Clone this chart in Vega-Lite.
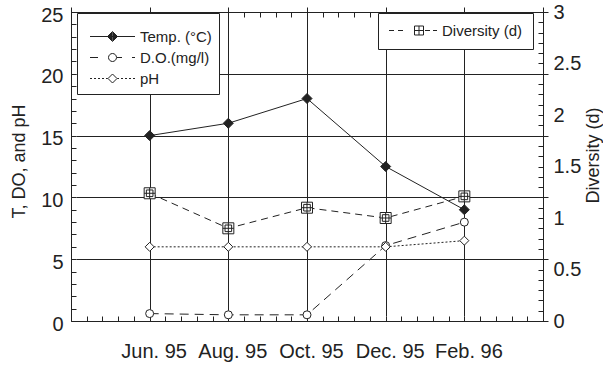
{
  "$schema": "https://vega.github.io/schema/vega-lite/v6.json",
  "width": 472,
  "height": 309,
  "autosize": {"type": "none"},
  "padding": {"left": 71, "top": 12, "right": 60, "bottom": 47},
  "config": {
    "view": {"stroke": "#222", "strokeWidth": 1},
    "font": "Liberation Sans",
    "axis": {
      "labelFont": "Liberation Sans",
      "titleFont": "Liberation Sans",
      "domain": false,
      "tickColor": "#222",
      "tickWidth": 1,
      "tickSize": 5,
      "offset": -5,
      "labelColor": "#222",
      "titleColor": "#222",
      "gridColor": "#222",
      "gridWidth": 1,
      "titleFontWeight": "normal",
      "labelOverlap": false,
      "labelFlush": false
    },
    "legend": {
      "labelFont": "Liberation Sans",
      "labelFontSize": 15,
      "labelColor": "#222",
      "titleFont": "Liberation Sans",
      "symbolOpacity": 1
    }
  },
  "data": {
    "values": [
      {"month": "Jun. 95", "idx": 1, "series": "Temp. (°C)", "value": 15},
      {"month": "Aug. 95", "idx": 2, "series": "Temp. (°C)", "value": 16},
      {"month": "Oct. 95", "idx": 3, "series": "Temp. (°C)", "value": 18},
      {"month": "Dec. 95", "idx": 4, "series": "Temp. (°C)", "value": 12.5},
      {"month": "Feb. 96", "idx": 5, "series": "Temp. (°C)", "value": 9},
      {"month": "Jun. 95", "idx": 1, "series": "D.O.(mg/l)", "value": 0.6},
      {"month": "Aug. 95", "idx": 2, "series": "D.O.(mg/l)", "value": 0.5},
      {"month": "Oct. 95", "idx": 3, "series": "D.O.(mg/l)", "value": 0.5},
      {"month": "Dec. 95", "idx": 4, "series": "D.O.(mg/l)", "value": 6.1},
      {"month": "Feb. 96", "idx": 5, "series": "D.O.(mg/l)", "value": 8},
      {"month": "Jun. 95", "idx": 1, "series": "pH", "value": 6},
      {"month": "Aug. 95", "idx": 2, "series": "pH", "value": 6},
      {"month": "Oct. 95", "idx": 3, "series": "pH", "value": 6},
      {"month": "Dec. 95", "idx": 4, "series": "pH", "value": 6},
      {"month": "Feb. 96", "idx": 5, "series": "pH", "value": 6.5},
      {"month": "Jun. 95", "idx": 1, "series": "Diversity (d)", "value": 1.24},
      {"month": "Aug. 95", "idx": 2, "series": "Diversity (d)", "value": 0.9},
      {"month": "Oct. 95", "idx": 3, "series": "Diversity (d)", "value": 1.1},
      {"month": "Dec. 95", "idx": 4, "series": "Diversity (d)", "value": 1.0},
      {"month": "Feb. 96", "idx": 5, "series": "Diversity (d)", "value": 1.21}
    ]
  },
  "layer": [
    {
      "transform": [{"filter": {"field": "series", "oneOf": ["Temp. (°C)", "D.O.(mg/l)", "pH"]}}],
      "encoding": {
        "x": {
          "field": "idx", "type": "quantitative",
          "scale": {"domain": [0, 6], "nice": false, "zero": false},
          "axis": {
            "orient": "bottom",
            "title": null,
            "values": [0, 0.2, 0.4, 0.6, 0.8, 1, 1.2, 1.4, 1.6, 1.8, 2, 2.2, 2.4, 2.6, 2.8, 3, 3.2, 3.4, 3.6, 3.8, 4, 4.2, 4.4, 4.6, 4.8, 5, 5.2, 5.4, 5.6, 5.8, 6],
            "labelExpr": "datum.value == 1 ? 'Jun. 95' : datum.value == 2 ? 'Aug. 95' : datum.value == 3 ? 'Oct. 95' : datum.value == 4 ? 'Dec. 95' : datum.value == 5 ? 'Feb. 96' : ''",
            "labelPadding": 20,
            "labelFontSize": 20,
            "labelOffset": 4,
            "grid": true,
            "gridOpacity": {"condition": {"test": "datum.value % 1 === 0", "value": 1}, "value": 0}
          }
        },
        "y": {
          "field": "value", "type": "quantitative",
          "scale": {"domain": [0, 25], "nice": false},
          "axis": {
            "orient": "left",
            "title": "T, DO, and pH",
            "titleFontSize": 18,
            "titleAngle": 270,
            "titleX": -57,
            "titleY": 149,
            "titleAlign": "center",
            "titleBaseline": "middle",
            "values": [0, 1, 2, 3, 4, 5, 6, 7, 8, 9, 10, 11, 12, 13, 14, 15, 16, 17, 18, 19, 20, 21, 22, 23, 24, 25],
            "labelExpr": "datum.value % 5 === 0 ? datum.label : ''",
            "labelPadding": 8,
            "labelFontSize": 20,
            "labelOffset": 3,
            "grid": true,
            "gridOpacity": {"condition": {"test": "datum.value % 5 === 0", "value": 1}, "value": 0}
          }
        }
      },
      "layer": [
        {
          "transform": [{"filter": {"field": "series", "equal": "Temp. (°C)"}}],
          "mark": {"type": "line", "stroke": "#222", "strokeWidth": 1}
        },
        {
          "transform": [{"filter": {"field": "series", "equal": "D.O.(mg/l)"}}],
          "mark": {"type": "line", "stroke": "#222", "strokeWidth": 1, "strokeDash": [9, 6]}
        },
        {
          "transform": [{"filter": {"field": "series", "equal": "pH"}}],
          "mark": {"type": "line", "stroke": "#222", "strokeWidth": 1, "strokeDash": [2, 2]}
        },
        {
          "transform": [{"filter": {"field": "series", "equal": "Temp. (°C)"}}],
          "mark": {"type": "point", "shape": "diamond", "size": 100, "filled": true, "fill": "#222", "stroke": "#222", "strokeWidth": 1, "opacity": 1}
        },
        {
          "transform": [{"filter": {"field": "series", "equal": "D.O.(mg/l)"}}],
          "mark": {"type": "point", "shape": "circle", "size": 64, "filled": true, "fill": "white", "stroke": "#222", "strokeWidth": 1, "opacity": 1}
        },
        {
          "transform": [{"filter": {"field": "series", "equal": "pH"}}],
          "mark": {"type": "point", "shape": "diamond", "size": 81, "filled": true, "fill": "white", "stroke": "#222", "strokeWidth": 1, "opacity": 1}
        },
        {
          "mark": {"type": "point", "size": 0, "filled": true, "fill": "white", "stroke": "#222", "strokeWidth": 1, "opacity": 1},
          "encoding": {
            "shape": {
              "field": "series", "type": "nominal",
              "scale": {
                "domain": ["Temp. (°C)", "D.O.(mg/l)", "pH"],
                "range": [
                  "M-0.3,0H8.7M3.2,0L4.2,-1L5.2,0L4.2,1ZM3.4,0L4.2,-0.8L5,0L4.2,0.8ZM3.6,0L4.2,-0.6L4.8,0L4.2,0.6ZM3.8,0L4.2,-0.4L4.6,0L4.2,0.4ZM4,0L4.2,-0.2L4.4,0L4.2,0.2Z",
                  "M-0.3,0H1.3M5,0A0.8,0.8 0 1,1 3.4,0A0.8,0.8 0 1,1 5,0ZM5.1,0H6.1M8.1,0H8.7",
                  "M-0.3,0H0.1M0.5,0H0.9M1.3,0H1.7M2.1,0H2.5M2.9,0H3.25M3.3,0L4.2,-0.9L5.1,0L4.2,0.9ZM5.15,0H5.5M5.9,0H6.3M6.7,0H7.1M7.5,0H7.9M8.3,0H8.7"
                ]
              },
              "legend": {
                "title": " ", "titleFontSize": 1, "titlePadding": 8,
                "orient": "none", "legendX": 6, "legendY": 1,
                "padding": 7, "symbolSize": 100, "symbolStrokeWidth": 1,
                "symbolOffset": 0,
                "labelFontSize": 15, "labelOffset": 41, "rowPadding": 5,
                "strokeColor": "#222", "fillColor": "white"
              }
            }
          }
        }
      ]
    },
    {
      "transform": [{"filter": {"field": "series", "equal": "Diversity (d)"}}],
      "encoding": {
        "x": {
          "field": "idx", "type": "quantitative",
          "scale": {"domain": [0, 6], "nice": false, "zero": false},
          "axis": {
            "orient": "top",
            "title": null,
            "values": [0, 0.2, 0.4, 0.6, 0.8, 1, 1.2, 1.4, 1.6, 1.8, 2, 2.2, 2.4, 2.6, 2.8, 3, 3.2, 3.4, 3.6, 3.8, 4, 4.2, 4.4, 4.6, 4.8, 5, 5.2, 5.4, 5.6, 5.8, 6],
            "labels": false,
            "grid": false
          }
        },
        "y": {
          "field": "value", "type": "quantitative",
          "scale": {"domain": [0, 3], "nice": false},
          "axis": {
            "orient": "right",
            "title": "Diversity (d)",
            "titleFontSize": 18,
            "titleAngle": 270,
            "titleX": 55,
            "titleY": 143,
            "titleAlign": "center",
            "titleBaseline": "middle",
            "values": [0, 0.1, 0.2, 0.3, 0.4, 0.5, 0.6, 0.7, 0.8, 0.9, 1, 1.1, 1.2, 1.3, 1.4, 1.5, 1.6, 1.7, 1.8, 1.9, 2, 2.1, 2.2, 2.3, 2.4, 2.5, 2.6, 2.7, 2.8, 2.9, 3],
            "labelExpr": "abs(datum.value * 2 - round(datum.value * 2)) < 0.000001 ? format(datum.value, '~g') : ''",
            "labelPadding": 10,
            "labelFontSize": 20,
            "grid": false
          }
        }
      },
      "layer": [
        {
          "mark": {"type": "line", "stroke": "#222", "strokeWidth": 1, "strokeDash": [7, 5]}
        },
        {
          "mark": {"type": "point", "shape": "M-1,-1H1V1H-1ZM-0.6,-0.6H0.6V0.6H-0.6ZM0,-1V1M-1,0H1", "size": 121, "filled": true, "fill": "white", "stroke": "#222", "strokeWidth": 1, "opacity": 1}
        },
        {
          "mark": {"type": "point", "size": 0, "filled": true, "fill": "white", "stroke": "#222", "strokeWidth": 1, "opacity": 1},
          "encoding": {
            "shape": {
              "field": "series", "type": "nominal",
              "scale": {
                "domain": ["Diversity (d)"],
                "range": ["M-1.3,0H-0.3M0.5,0H1.5M3.8,-0.9H5.6V0.9H3.8ZM4.7,-0.9V0.9M3.8,0H5.6M5.9,0H6.9M7.5,0H8.3"]
              },
              "legend": {
                "title": null,
                "orient": "none", "legendX": 307, "legendY": 1,
                "padding": 10, "symbolSize": 100, "symbolStrokeWidth": 1,
                "symbolOffset": 0,
                "labelFontSize": 15, "labelOffset": 39,
                "strokeColor": "#222", "fillColor": "white"
              }
            }
          }
        }
      ]
    }
  ],
  "resolve": {"scale": {"x": "independent", "y": "independent", "shape": "independent"}}
}
